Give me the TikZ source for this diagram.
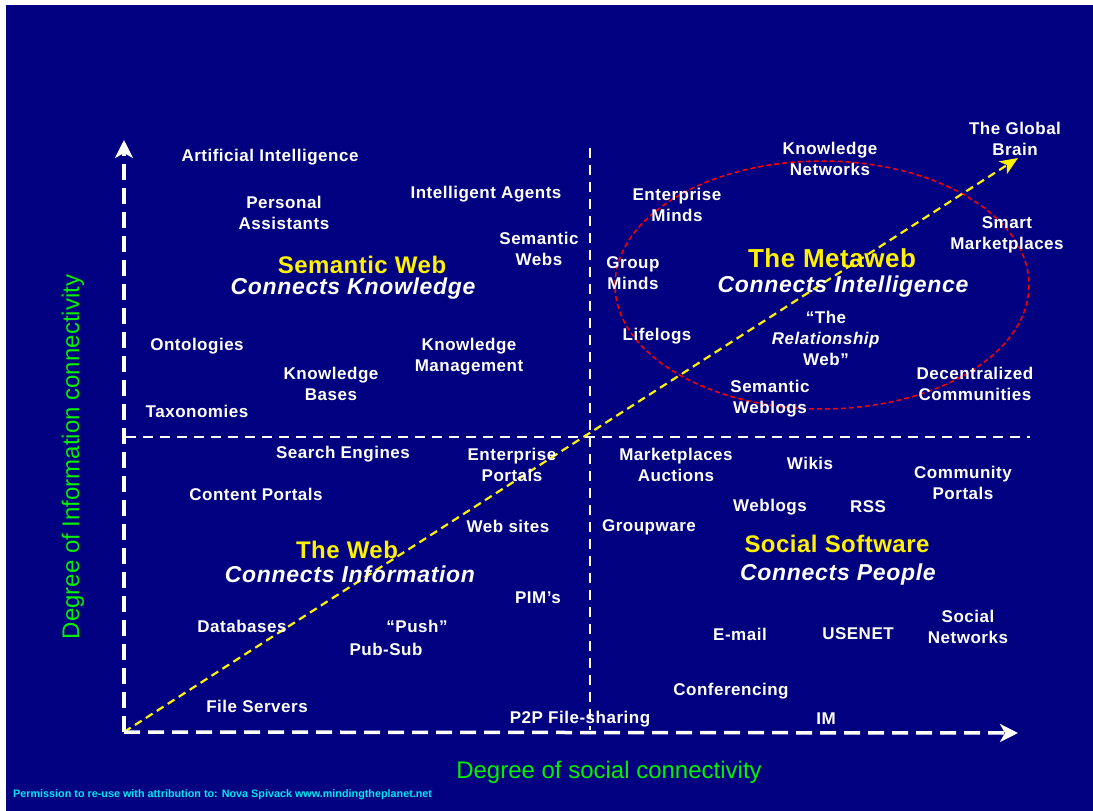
\documentclass[tikz,border=0pt]{standalone}
\usepackage{fontspec}
\setmainfont{Liberation Sans}
\usetikzlibrary{arrows.meta}
\definecolor{navybg}{RGB}{0,0,128}
\definecolor{axisgreen}{RGB}{0,240,0}
\definecolor{notecyan}{RGB}{0,230,240}

\begin{document}
\begin{tikzpicture}[x=1pt, y=-1pt,
  item/.style={text=white, font=\bfseries\fontsize{17}{21}\selectfont\addfontfeatures{LetterSpace=3}, align=center, inner sep=0pt},
  title/.style={text=yellow, font=\bfseries\fontsize{24}{28}\selectfont\addfontfeatures{LetterSpace=2}, inner sep=0pt},
  subtitle/.style={text=white, font=\bfseries\itshape\fontsize{23}{28}\selectfont\addfontfeatures{LetterSpace=3}, inner sep=0pt},
  axis/.style={white, line width=3.5pt, dash pattern=on 16pt off 8pt},
  divider/.style={white, line width=2.5pt, dash pattern=on 10pt off 7pt},
  trend/.style={yellow, line width=2.2pt, dash pattern=on 8pt off 5pt},
  ring/.style={red, line width=1.5pt, dash pattern=on 5pt off 3pt}]
  \useasboundingbox (0,0) rectangle (1093,811);
  \fill[white] (0,0) rectangle (1093,811);
  \fill[navybg] (6,5) rectangle (1093,811);

  \coordinate (origin) at (124,732);
  \coordinate (ytip) at (124,140);
  \coordinate (xtip) at (1018,733);
  \coordinate (hleft) at (126,437);
  \coordinate (hright) at (1030,437);
  \coordinate (vtop) at (590,148);
  \coordinate (vbottom) at (590,730);
  \coordinate (braintip) at (1018,158);

  \draw[divider] (hleft) -- (hright);
  \draw[divider] (vtop) -- (vbottom);
  \draw[ring] (822,285) ellipse [x radius=207, y radius=124];
  \draw[trend, -{Stealth[length=18pt, width=15pt, inset=5pt]}] (origin) -- (braintip);
  \draw[axis, -{Stealth[length=18pt, width=18pt, inset=5pt, sep=0pt]}] (origin) -- (ytip);
  \draw[axis, -{Stealth[length=18pt, width=18pt, inset=5pt, sep=0pt]}] (origin) -- (xtip);

  \node[item] (ai) at (270,157) {Artificial Intelligence};
  \node[item] (assistants) at (284,213) {Personal\\Assistants};
  \node[item] (agents) at (486,194) {Intelligent Agents};
  \node[item] (semwebs) at (539,249) {Semantic\\Webs};
  \node[title] (semweb) at (362,265) {Semantic Web};
  \node[subtitle] (knowledge) at (353,289) {Connects Knowledge};
  \node[item] (ontologies) at (197,346) {Ontologies};
  \node[item] (kbases) at (331,384) {Knowledge\\Bases};
  \node[item] (kmgmt) at (469,357) {Knowledge\\Management};
  \node[item] (taxonomies) at (197,411) {Taxonomies};

  \node[item] (knets) at (830,159) {Knowledge\\Networks};
  \node[item] (brain) at (1015,139) {The Global\\Brain};
  \node[item] (eminds) at (677,205) {Enterprise\\Minds};
  \node[item] (smart) at (1007,235) {Smart\\Marketplaces};
  \node[item] (gminds) at (633,273) {Group\\Minds};
  \node[title, font=\bfseries\fontsize{26}{30}\selectfont\addfontfeatures{LetterSpace=2}] (metaweb) at (832,258) {The Metaweb};
  \node[subtitle] (intelligence) at (843,287) {Connects Intelligence};
  \node[item] (lifelogs) at (657,336) {Lifelogs};
  \node[item] (relweb) at (826,338) {``The\\\textit{Relationship}\\Web''};
  \node[item] (semblogs) at (770,399) {Semantic\\Weblogs};
  \node[item] (decentral) at (975,384) {Decentralized\\Communities};

  \node[item] (search) at (343,454) {Search Engines};
  \node[item] (eportals) at (512,465) {Enterprise\\Portals};
  \node[item] (cportals) at (256,494) {Content Portals};
  \node[item] (websites) at (508,526) {Web sites};
  \node[title] (theweb) at (347,550) {The Web};
  \node[subtitle] (information) at (350,574) {Connects Information};
  \node[item] (pims) at (538,598) {PIM's};
  \node[item] (databases) at (242,626) {Databases};
  \node[item] (push) at (417,626) {``Push''};
  \node[item] (pubsub) at (386,649) {Pub-Sub};
  \node[item] (fileservers) at (257,706) {File Servers};
  \node[item] (p2p) at (580,719) {P2P File-sharing};

  \node[item] (markets) at (676,465) {Marketplaces\\Auctions};
  \node[item] (wikis) at (810,463) {Wikis};
  \node[item] (cmportals) at (963,483) {Community\\Portals};
  \node[item] (weblogs) at (770,507) {Weblogs};
  \node[item] (rss) at (868,507) {RSS};
  \node[item] (groupware) at (649,527) {Groupware};
  \node[title] (socsoft) at (837,544) {Social Software};
  \node[subtitle] (people) at (838,575) {Connects People};
  \node[item] (socnets) at (968,627) {Social\\Networks};
  \node[item] (email) at (740,634) {E-mail};
  \node[item] (usenet) at (858,634) {USENET};
  \node[item] (conf) at (731,691) {Conferencing};
  \node[item] (im) at (826,719) {IM};

  \node[text=axisgreen, font=\fontsize{24}{28}\selectfont, inner sep=0pt] (xlabel) at (609,772) {Degree of social connectivity};
  \node[text=axisgreen, font=\fontsize{24}{28}\selectfont, inner sep=0pt, rotate=90] (ylabel) at (73,457) {Degree of Information connectivity};
  \node[text=notecyan, font=\bfseries\fontsize{10.8}{12}\selectfont, inner sep=0pt, anchor=west] (permission) at (13,795) {Permission to re-use with attribution to: Nova Spivack www.mindingtheplanet.net};
\end{tikzpicture}
\end{document}
